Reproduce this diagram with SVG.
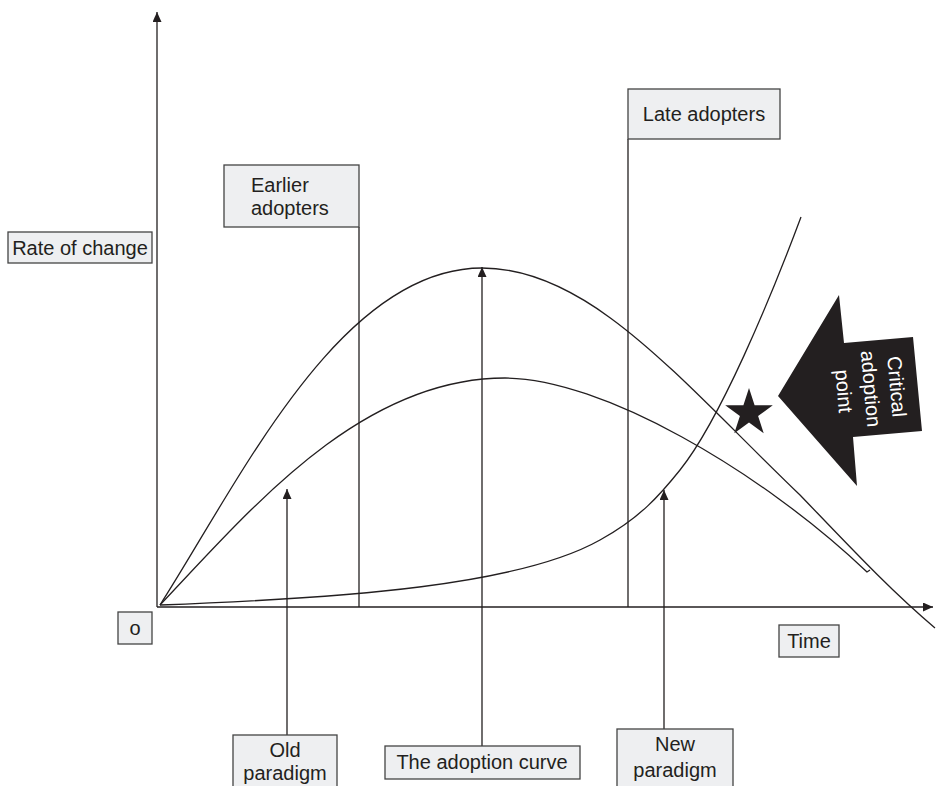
<svg xmlns="http://www.w3.org/2000/svg" width="937" height="786" viewBox="0 0 937 786">
<defs>
<marker id="ah" markerUnits="userSpaceOnUse" markerWidth="10" markerHeight="9" refX="10" refY="4.5" orient="auto">
<path d="M0,0 L10,4.5 L0,9 z" fill="#231f20"/>
</marker>
<style>
.ln{stroke:#231f20;stroke-width:1.3;fill:none}
.bx{fill:#eeeff1;stroke:#444;stroke-width:1.3}
.tx{font-family:"Liberation Sans",Arial,sans-serif;font-size:20px;fill:#231f20}
.wt{font-family:"Liberation Sans",Arial,sans-serif;font-size:20px;fill:#fff}
</style>
</defs>
<rect width="937" height="786" fill="#fff"/>
<g id="connectors">
<line class="ln" x1="157" y1="607" x2="157" y2="12" marker-end="url(#ah)"/>
<line class="ln" x1="157" y1="607" x2="933" y2="607" marker-end="url(#ah)"/>
<path id="adoption-curve" class="ln" d="M160,605 C240,480 340,268 482,268 C590,268 680,380 800,495 C850,547 890,590 935,628"/>
<path id="old-paradigm-curve" class="ln" d="M160,605 C250,510 360,378 505,378 C600,378 760,470 867,572 l3,-2"/>
<path id="new-paradigm-curve" class="ln" d="M160,605 C350,598 520,585 600,540 C640,518 660,495 680,470 C720,420 770,300 801,217"/>
<line class="ln" x1="359" y1="227" x2="359" y2="607"/>
<line class="ln" x1="628" y1="139" x2="628" y2="607"/>
<line class="ln" x1="287" y1="735" x2="287" y2="489" marker-end="url(#ah)"/>
<line class="ln" x1="482" y1="746" x2="482" y2="267" marker-end="url(#ah)"/>
<line class="ln" x1="664" y1="729" x2="664" y2="490" marker-end="url(#ah)"/>
</g>
<g id="rate-of-change">
<rect class="bx" x="8" y="232" width="144" height="31"/>
<text class="tx" x="80" y="255" text-anchor="middle">Rate of change</text>
</g>
<g id="origin">
<rect class="bx" x="118" y="612" width="34" height="32"/>
<text class="tx" x="135" y="635" text-anchor="middle">o</text>
</g>
<g id="time">
<rect class="bx" x="779" y="625" width="60" height="32"/>
<text class="tx" x="809" y="648" text-anchor="middle">Time</text>
</g>
<g id="earlier-adopters">
<rect class="bx" x="224" y="165" width="135" height="62"/>
<text class="tx" x="251" y="192">Earlier</text>
<text class="tx" x="251" y="215">adopters</text>
</g>
<g id="late-adopters">
<rect class="bx" x="628" y="89" width="152" height="50"/>
<text class="tx" x="704" y="121" text-anchor="middle">Late adopters</text>
</g>
<g id="old-paradigm">
<rect class="bx" x="233" y="735" width="104" height="60"/>
<text class="tx" x="285" y="757" text-anchor="middle">Old</text>
<text class="tx" x="285" y="780" text-anchor="middle">paradigm</text>
</g>
<g id="the-adoption-curve">
<rect class="bx" x="385" y="746" width="195" height="33"/>
<text class="tx" x="482" y="769" text-anchor="middle">The adoption curve</text>
</g>
<g id="new-paradigm">
<rect class="bx" x="617" y="729" width="116" height="60"/>
<text class="tx" x="675" y="751" text-anchor="middle">New</text>
<text class="tx" x="675" y="777" text-anchor="middle">paradigm</text>
</g>
<g id="star">
<polygon fill="#231f20" points="749,388 754.6,405.3 772.8,405.3 758.1,416 763.7,433.2 749,422.6 734.3,433.2 739.9,416 725.2,405.3 743.4,405.3"/>
</g>
<g id="critical-adoption-point">
<polygon fill="#231f20" points="778,396 839,295 844,343 913,337 922,431 853,437 857,486"/>
<g transform="translate(880,388) rotate(85)">
<text class="wt" x="0" y="-10" text-anchor="middle">Critical</text>
<text class="wt" x="0" y="16" text-anchor="middle">adoption</text>
<text class="wt" x="0" y="43" text-anchor="middle">point</text>
</g>
</g>
</svg>
